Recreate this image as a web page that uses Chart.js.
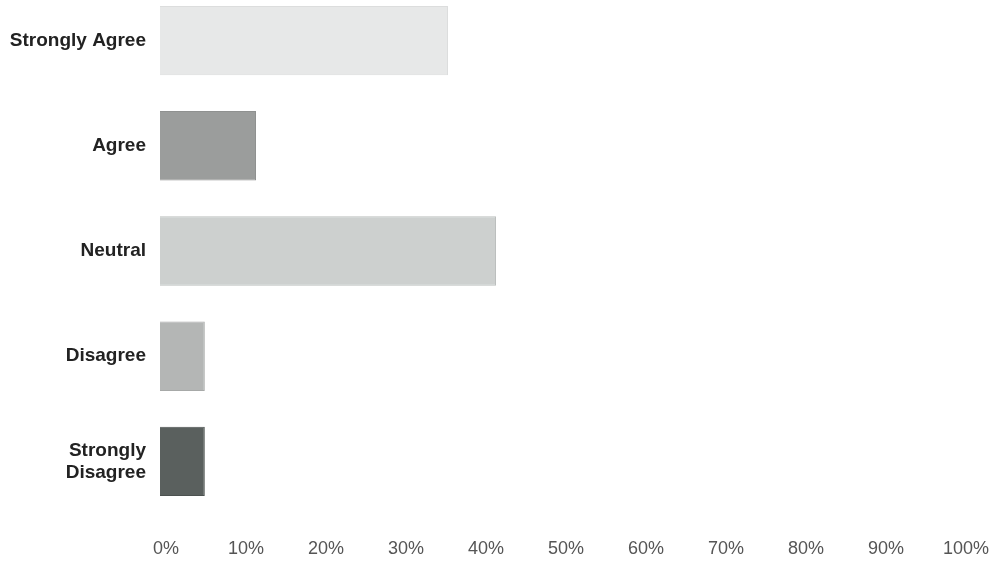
<!DOCTYPE html>
<html>
<head>
<meta charset="utf-8">
<script src="https://cdn.jsdelivr.net/npm/chart.js@4/dist/chart.umd.min.js"></script>
<style>
  html, body { margin: 0; padding: 0; background: #ffffff; overflow: hidden; width: 990px; height: 562px; }
  #wrap { position: absolute; left: 0; top: -12px; width: 990px; height: 580px; }
</style>
</head>
<body>
<div id="wrap"><canvas id="c"></canvas></div>
<script>
const categories = ['Strongly Agree', 'Agree', 'Neutral', 'Disagree', ['Strongly', 'Disagree']];
const percentValues = [36, 12, 42, 5.6, 5.6];
const barColors = ['#e7e8e8', '#9b9d9c', '#cdd0cf', '#b4b6b5', '#5a605e'];
const barBorders = ['#dcdddd', '#8f9190', '#bcbfbe', '#a7a9a8', '#4c5250'];
const tickValues = [0, 10, 20, 30, 40, 50, 60, 70, 80, 90, 100];

new Chart(document.getElementById('c'), {
  type: 'bar',
  data: {
    labels: categories,
    datasets: [{
      data: percentValues,
      backgroundColor: barColors,
      borderColor: barBorders,
      borderWidth: 1,
      categoryPercentage: 1,
      barPercentage: 0.66
    }]
  },
  options: {
    indexAxis: 'y',
    responsive: true,
    maintainAspectRatio: false,
    animation: false,
    layout: { padding: { left: 10, right: 30, top: 0, bottom: 8 } },
    plugins: { legend: { display: false }, tooltip: { enabled: false } },
    scales: {
      x: {
        min: 0,
        max: 100,
        afterBuildTicks: (axis) => { axis.ticks = tickValues.map(v => ({ value: v })); },
        afterFit: (axis) => { axis.paddingLeft = 0; axis.paddingRight = 0; axis.height = 46; },
        grid: { display: false, drawTicks: false },
        border: { display: false },
        ticks: {
          padding: 24,
          labelOffset: 6,
          maxRotation: 0,
          color: '#555555',
          font: { family: '"Liberation Sans", Arial, sans-serif', size: 18 },
          callback: (v) => v + '%'
        }
      },
      y: {
        afterFit: (axis) => { axis.width = 150; axis.paddingTop = 0; axis.paddingBottom = 0; },
        grid: { display: false, drawTicks: false },
        border: { display: false },
        ticks: {
          padding: 14,
          color: '#222222',
          font: { family: '"Liberation Sans", Arial, sans-serif', size: 19, weight: 'bold', lineHeight: 1.15 }
        }
      }
    }
  }
});
</script>
</body>
</html>
